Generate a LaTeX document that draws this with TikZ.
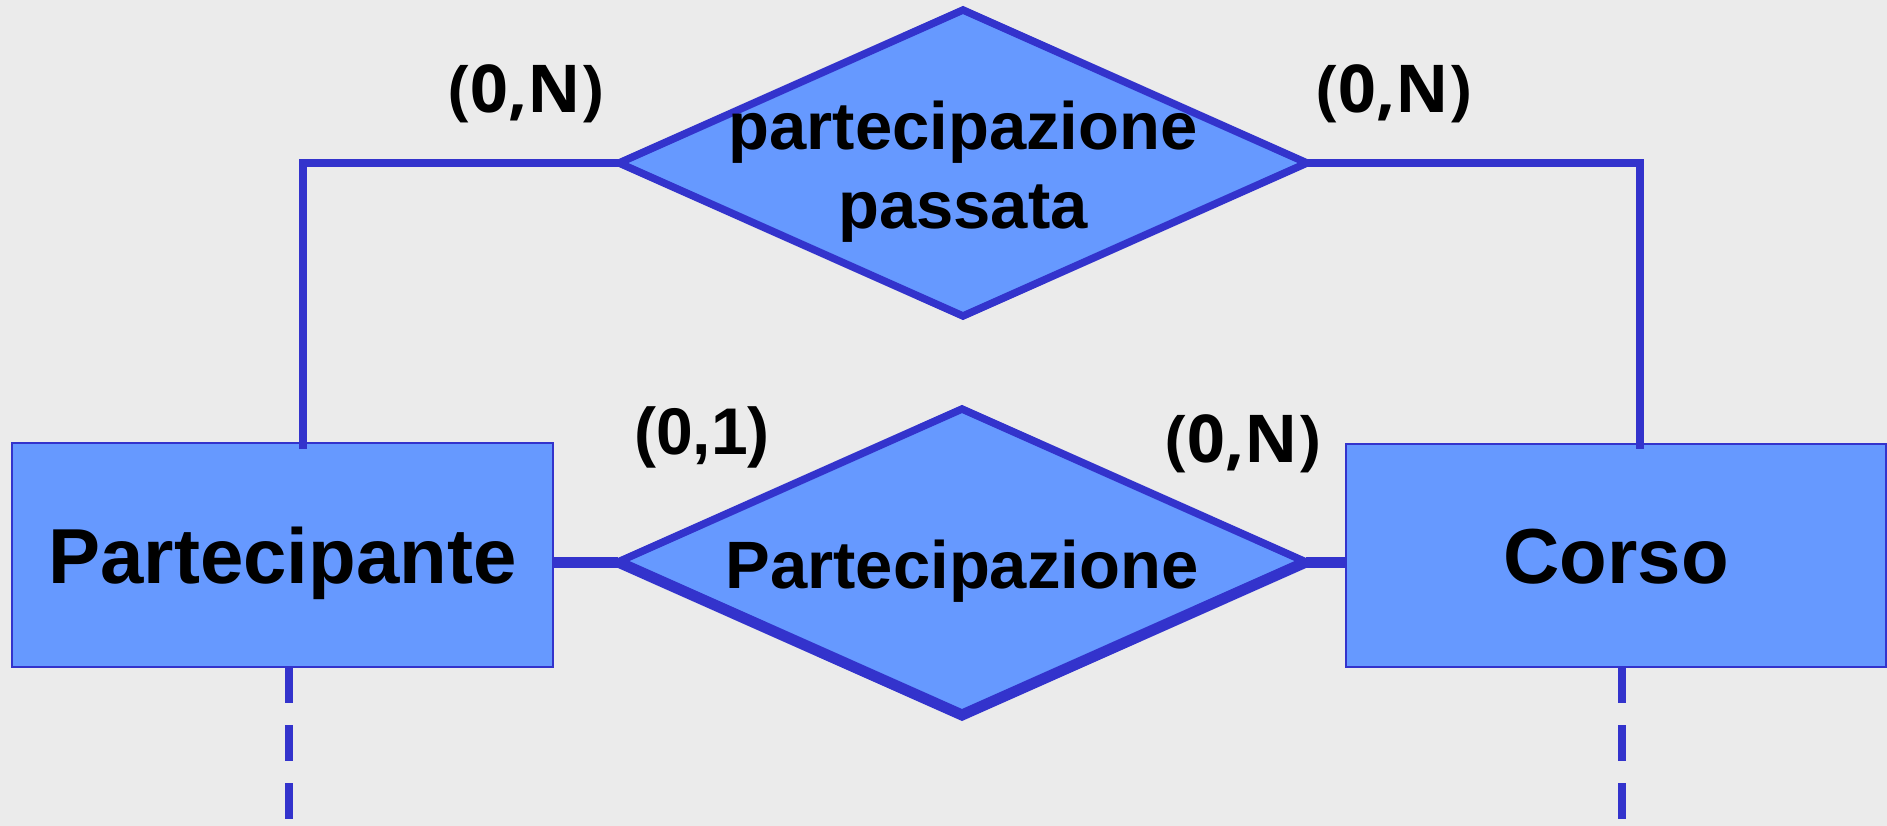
\documentclass[tikz,border=0pt]{standalone}
\usepackage{fontspec}
\setmainfont{Liberation Sans}
\newfontfamily\cardfont{Open Sans}
\usetikzlibrary{shapes.geometric}
\definecolor{bg}{HTML}{EBEBEB}
\definecolor{fillb}{HTML}{6699FF}
\definecolor{edge}{HTML}{3333CC}
\begin{document}
\begin{tikzpicture}[x=1pt,y=-1pt,
  entity/.style={rectangle, draw=edge, fill=fillb, line width=2.5pt, inner sep=0pt, outer sep=0pt,
    text height=56pt, text depth=0pt,
    font=\fontsize{78}{90}\selectfont\bfseries},
  rel/.style={diamond, draw=edge, fill=fillb, line width=7.5pt, inner sep=0pt, outer sep=0pt,
    minimum width=688pt, minimum height=306pt},
  reltext/.style={anchor=base, inner sep=0pt, font=\fontsize{67}{79}\selectfont\bfseries},
  card/.style={inner sep=0pt, font=\fontsize{66}{76}\selectfont\cardfont\bfseries},
  cardb/.style={inner sep=0pt, font=\fontsize{66}{76}\selectfont\bfseries},
  conn/.style={draw=edge, line width=7.5pt},
  connb/.style={draw=edge, line width=11pt},
  dashconn/.style={draw=edge, line width=8pt, dash pattern=on 36pt off 22pt},
]
\fill[bg] (0,0) rectangle (1887,826);
\useasboundingbox (0,0) rectangle (1887,826);

% relationships
\node[rel] (d1) at (963,163) {};
\node[rel] (d2) at (962,562) {};
\draw[edge, line width=11pt, line join=miter] (d2.west) -- (d2.south) -- (d2.east);

% entities
\node[entity, minimum width=541pt, minimum height=224pt] (P) at (282.5,555) {Partecipante};
\node[entity, minimum width=540pt, minimum height=223pt] (C) at (1616,555.5) {Corso};

% texts of relationships
\node[reltext] (d1a) at (963,150) {partecipazione};
\node[reltext] (d1b) at (963,229) {passata};
\node[reltext] (d2t) at (962,588) {Partecipazione};

% connectors
\coordinate (pl) at (303,449);
\coordinate (cr) at (1640,449);
\draw[conn] (pl) |- (d1.west);
\draw[conn] (d1.east) -| (cr);
\draw[connb] (P.east |- d2.west) -- (d2.west);
\draw[connb] (d2.east) -- (C.west |- d2.east);

% dashed continuations
\coordinate (pd) at (289,830);
\coordinate (cd) at (1622,830);
\draw[dashconn] (pd |- P.south) -- (pd);
\draw[dashconn] (cd |- C.south) -- (cd);

% cardinalities
\node[card] (c1) at (526,94) {(0,N)};
\node[card] (c2) at (1394,94) {(0,N)};
\node[cardb] (c3) at (702,437) {(0,1)};
\node[card] (c4) at (1243,443.5) {(0,N)};
\end{tikzpicture}
\end{document}
